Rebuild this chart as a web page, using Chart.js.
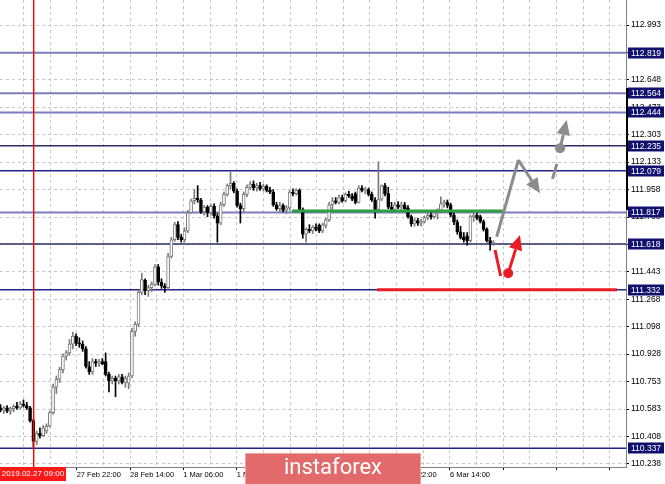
<!DOCTYPE html>
<html>
<head>
<meta charset="utf-8">
<title>USDJPY H1</title>
<script src="https://cdn.jsdelivr.net/npm/chart.js@4.4.1/dist/chart.umd.min.js"></script>
<style>
  html, body { margin: 0; padding: 0; background: #fff; }
  #wrap { width: 665px; height: 484px; }
</style>
</head>
<body>
<div id="wrap"><canvas id="chart" width="665" height="484"></canvas></div>
<script>
"use strict";

// H1 candles (one per hour)
const openP = [
  110.590, 110.575, 110.590, 110.570, 110.585, 110.600, 110.590, 110.615, 110.605, 110.590,
  110.510, 110.380, 110.430, 110.415, 110.445, 110.475, 110.560, 110.720, 110.770, 110.830,
  110.915, 110.935, 110.990, 111.040, 110.995, 110.990, 110.960, 110.850, 110.815, 110.880,
  110.870, 110.880, 110.880, 110.800, 110.760, 110.775, 110.760, 110.785, 110.750, 110.745,
  110.790, 111.070, 111.115, 111.315, 111.390, 111.325, 111.345, 111.365, 111.475, 111.380,
  111.355, 111.345, 111.540, 111.645, 111.740, 111.660, 111.645, 111.700, 111.815, 111.890,
  111.905, 111.895, 111.820, 111.850, 111.815, 111.855, 111.795, 111.750, 111.865, 111.930,
  111.985, 112.000, 111.950, 111.860, 111.840, 111.930, 111.975, 111.995, 111.970, 111.985,
  111.965, 111.980, 111.955, 111.945, 111.865, 111.840, 111.860, 111.830, 111.845, 111.945,
  111.935, 111.955, 111.835, 111.680, 111.710, 111.700, 111.725, 111.735, 111.700, 111.735,
  111.770, 111.865, 111.890, 111.880, 111.910, 111.890, 111.930, 111.920, 111.935, 111.880,
  111.970, 111.955, 111.960, 111.930, 111.895, 111.835, 111.900, 111.985, 111.935, 111.850,
  111.835, 111.865, 111.850, 111.865, 111.845, 111.790, 111.745, 111.765, 111.750, 111.760,
  111.785, 111.800, 111.790, 111.815, 111.830, 111.870, 111.880, 111.865, 111.800, 111.757,
  111.695, 111.660, 111.670, 111.640, 111.790, 111.800, 111.790, 111.760, 111.710, 111.640,
  111.625
];
const highP = [
  110.610, 110.600, 110.605, 110.595, 110.610, 110.625, 110.630, 110.640, 110.625, 110.600,
  110.520, 110.445, 110.465, 110.480, 110.490, 110.570, 110.740, 110.790, 110.845, 110.930,
  110.950, 111.020, 111.065, 111.055, 111.030, 111.010, 110.975, 110.880, 110.900, 110.895,
  110.895, 110.900, 110.935, 110.815, 110.790, 110.790, 110.800, 110.800, 110.790, 110.810,
  111.090, 111.130, 111.330, 111.435, 111.400, 111.360, 111.380, 111.490, 111.490, 111.400,
  111.370, 111.560, 111.660, 111.755, 111.760, 111.680, 111.720, 111.830, 111.900, 111.960,
  111.985, 111.905, 111.860, 111.860, 111.870, 111.870, 111.810, 111.880, 111.945, 111.995,
  112.070, 112.010, 111.965, 111.875, 111.945, 111.990, 112.010, 112.015, 112.000, 112.005,
  111.995, 111.990, 111.975, 111.960, 111.880, 111.880, 111.870, 111.860, 111.955, 111.965,
  111.965, 111.965, 111.845, 111.720, 111.740, 111.735, 111.745, 111.745, 111.750, 111.780,
  111.880, 111.910, 111.910, 111.925, 111.925, 111.940, 111.950, 111.935, 111.945, 111.985,
  111.985, 111.975, 111.970, 111.945, 111.910, 112.135, 111.990, 112.000, 111.975, 111.880,
  111.880, 111.885, 111.880, 111.880, 111.860, 111.800, 111.780, 111.780, 111.775, 111.795,
  111.815, 111.815, 111.825, 111.840, 111.915, 111.895, 111.895, 111.875, 111.815, 111.770,
  111.730, 111.690, 111.690, 111.800, 111.820, 111.815, 111.800, 111.770, 111.720, 111.660,
  111.640
];
const lowP = [
  110.565, 110.555, 110.560, 110.550, 110.565, 110.580, 110.585, 110.595, 110.580, 110.500,
  110.345, 110.360, 110.400, 110.410, 110.430, 110.470, 110.550, 110.680, 110.750, 110.810,
  110.890, 110.920, 110.960, 110.980, 110.970, 110.945, 110.840, 110.800, 110.800, 110.850,
  110.850, 110.860, 110.790, 110.690, 110.740, 110.660, 110.740, 110.740, 110.720, 110.710,
  110.780, 111.040, 111.100, 111.300, 111.300, 111.290, 111.320, 111.355, 111.360, 111.340,
  111.315, 111.335, 111.530, 111.635, 111.645, 111.630, 111.630, 111.690, 111.810, 111.870,
  111.880, 111.810, 111.800, 111.790, 111.800, 111.780, 111.630, 111.740, 111.855, 111.920,
  111.965, 111.940, 111.850, 111.750, 111.820, 111.915, 111.960, 111.955, 111.950, 111.955,
  111.950, 111.945, 111.935, 111.855, 111.830, 111.820, 111.820, 111.810, 111.830, 111.920,
  111.925, 111.825, 111.655, 111.630, 111.690, 111.685, 111.700, 111.690, 111.690, 111.720,
  111.760, 111.830, 111.870, 111.870, 111.880, 111.880, 111.910, 111.890, 111.870, 111.875,
  111.945, 111.935, 111.920, 111.885, 111.780, 111.820, 111.890, 111.920, 111.840, 111.820,
  111.825, 111.840, 111.835, 111.830, 111.780, 111.730, 111.730, 111.735, 111.730, 111.750,
  111.770, 111.775, 111.780, 111.775, 111.820, 111.850, 111.845, 111.790, 111.740, 111.680,
  111.650, 111.630, 111.612, 111.630, 111.760, 111.770, 111.750, 111.700, 111.630, 111.580,
  111.610
];
const closeP = [
  110.575, 110.590, 110.570, 110.585, 110.600, 110.590, 110.615, 110.605, 110.590, 110.510,
  110.380, 110.430, 110.415, 110.465, 110.475, 110.560, 110.720, 110.770, 110.830, 110.915,
  110.935, 110.990, 111.040, 110.995, 110.990, 110.960, 110.850, 110.815, 110.880, 110.870,
  110.880, 110.865, 110.800, 110.760, 110.775, 110.760, 110.785, 110.750, 110.775, 110.790,
  111.070, 111.115, 111.315, 111.395, 111.325, 111.345, 111.365, 111.475, 111.380, 111.355,
  111.345, 111.540, 111.645, 111.740, 111.660, 111.645, 111.700, 111.815, 111.890, 111.905,
  111.895, 111.820, 111.850, 111.815, 111.855, 111.795, 111.750, 111.865, 111.930, 111.985,
  112.000, 111.950, 111.860, 111.840, 111.930, 111.975, 111.995, 111.970, 111.985, 111.965,
  111.980, 111.955, 111.945, 111.865, 111.840, 111.860, 111.830, 111.845, 111.945, 111.935,
  111.955, 111.835, 111.680, 111.710, 111.700, 111.725, 111.710, 111.700, 111.740, 111.770,
  111.865, 111.890, 111.880, 111.910, 111.890, 111.930, 111.920, 111.900, 111.880, 111.970,
  111.955, 111.960, 111.930, 111.895, 111.835, 111.900, 111.985, 111.935, 111.850, 111.835,
  111.865, 111.850, 111.865, 111.840, 111.790, 111.745, 111.765, 111.750, 111.760, 111.785,
  111.800, 111.790, 111.815, 111.830, 111.870, 111.880, 111.860, 111.800, 111.757, 111.695,
  111.660, 111.645, 111.640, 111.790, 111.800, 111.780, 111.760, 111.710, 111.640, 111.625,
  111.630
];

// price axis ticks and time labels
const yTicks = [112.993, 112.818, 112.648, 112.473, 112.303, 112.133, 111.958, 111.788, 111.613,
  111.443, 111.268, 111.098, 110.928, 110.753, 110.583, 110.408, 110.238];
const timeLabels = ["27 Feb 22:00", "28 Feb 14:00", "1 Mar 06:00", "1 Mar 22:00",
  "4 Mar 14:00", "5 Mar 06:00", "5 Mar 22:00", "6 Mar 14:00"];

// horizontal levels (the boxed prices on the right)
const levels = [112.819, 112.564, 112.444, 112.235, 112.079, 111.817, 111.618, 111.332, 110.337];

// vertical line 2019.02.27 09:00 (bar index)
const vlineBar = 10;
const vlineText = "2019.02.27 09:00";

// drawn objects, in [bar index, price]
const greenSeg = [[88.7, 111.826], [152.9, 111.826]];
const redSeg = [[114.6, 111.332], [187.6, 111.332]];
const grayZigzag = [[151.0, 111.664], [157.6, 112.146], [164.2, 111.937]];
const grayDash = [[168.0, 112.027], [169.3, 112.121]];
const grayDotArrow = [[170.3, 112.219], [172.3, 112.397]];
const redStroke = [[150.5, 111.581], [152.2, 111.418]];
const redDotArrow = [[154.5, 111.435], [158.1, 111.675]];
const rangeMark = [112.598, 111.832];

// ---- layout / style ----
const xMin = -0.152, xMax = 190.35;
const yMin = 110.219, yMax = 113.150;
const gridStart = 6.95, gridStep = 8.115;
const gridX = [];
for (let v = gridStart; v < xMax; v += gridStep) gridX.push(v);

const lightLvl = {color: "#7c7cbe", width: 2};
const darkLvl = {color: "#2e2e62", width: 1.5};
const navyLvl = {color: "#22228c", width: 1.5};
const levelStyle = [lightLvl, lightLvl, lightLvl, darkLvl, navyLvl, lightLvl, darkLvl, navyLvl, navyLvl];

const bars = openP.map((o, i) => i);
const up = bars.map(i => closeP[i] >= openP[i]);

function px(chart, pt) {
    return [chart.scales.x.getPixelForValue(pt[0]), chart.scales.y.getPixelForValue(pt[1])];
}

function drawArrow(ctx, a, b, color, width, head) {
    let ang = Math.atan2(b[1] - a[1], b[0] - a[0]);
    let bx = b[0] - Math.cos(ang) * head, by = b[1] - Math.sin(ang) * head;
    ctx.strokeStyle = color;
    ctx.lineWidth = width;
    ctx.beginPath();
    ctx.moveTo(a[0], a[1]);
    ctx.lineTo(bx, by);
    ctx.stroke();
    ctx.fillStyle = color;
    ctx.beginPath();
    ctx.moveTo(b[0], b[1]);
    ctx.lineTo(bx + Math.sin(ang) * head * 0.45, by - Math.cos(ang) * head * 0.45);
    ctx.lineTo(bx - Math.sin(ang) * head * 0.45, by + Math.cos(ang) * head * 0.45);
    ctx.closePath();
    ctx.fill();
}

function dot(ctx, p, r, color) {
    ctx.fillStyle = color;
    ctx.beginPath();
    ctx.arc(p[0], p[1], r, 0, Math.PI * 2);
    ctx.fill();
}

function noPadding(scale) {
    scale.paddingTop = 0;
    scale.paddingBottom = 0;
    scale.paddingLeft = 0;
    scale.paddingRight = 0;
}

const mtObjects = {
    id: "mtObjects",
    beforeDatasetsDraw(chart) {
        const {ctx, chartArea: a, scales: {y}} = chart;
        ctx.save();
        levels.forEach((lv, i) => {
            let yy = y.getPixelForValue(lv);
            ctx.strokeStyle = levelStyle[i].color;
            ctx.lineWidth = levelStyle[i].width;
            ctx.beginPath();
            ctx.moveTo(a.left, yy);
            ctx.lineTo(a.right, yy);
            ctx.stroke();
        });
        ctx.restore();
    },
    afterDatasetsDraw(chart) {
        const {ctx, chartArea: a} = chart;
        ctx.save();
        ctx.beginPath();
        ctx.rect(a.left, a.top, a.right - a.left, a.bottom - a.top);
        ctx.clip();

        // green and red horizontals
        [[greenSeg, "#2e9e3e"], [redSeg, "#ec1c24"]].forEach(([seg, col]) => {
            let p0 = px(chart, seg[0]), p1 = px(chart, seg[1]);
            ctx.strokeStyle = col;
            ctx.lineWidth = 3;
            ctx.beginPath();
            ctx.moveTo(p0[0], p0[1]);
            ctx.lineTo(p1[0], p1[1]);
            ctx.stroke();
        });

        // gray scenario
        const gray = "#8c8c8c";
        let g = grayZigzag.map(p => px(chart, p));
        ctx.strokeStyle = gray;
        ctx.lineWidth = 3;
        ctx.beginPath();
        ctx.moveTo(g[0][0], g[0][1]);
        ctx.lineTo(g[1][0], g[1][1]);
        ctx.stroke();
        drawArrow(ctx, g[1], g[2], gray, 3, 15);
        let d = grayDash.map(p => px(chart, p));
        ctx.strokeStyle = gray;
        ctx.lineWidth = 3;
        ctx.beginPath();
        ctx.moveTo(d[0][0], d[0][1]);
        ctx.lineTo(d[1][0], d[1][1]);
        ctx.stroke();
        let ga = grayDotArrow.map(p => px(chart, p));
        drawArrow(ctx, ga[0], ga[1], gray, 3, 15);
        dot(ctx, ga[0], 5, gray);

        // red scenario
        const red = "#ec1c24";
        let r = redStroke.map(p => px(chart, p));
        ctx.strokeStyle = red;
        ctx.lineWidth = 3;
        ctx.beginPath();
        ctx.moveTo(r[0][0], r[0][1]);
        ctx.lineTo(r[1][0], r[1][1]);
        ctx.stroke();
        let ra = redDotArrow.map(p => px(chart, p));
        drawArrow(ctx, ra[0], ra[1], red, 3, 15);
        dot(ctx, ra[0], 5, red);
        ctx.restore();
    },
    afterDraw(chart) {
        const {ctx, chartArea: a, scales: {x, y}} = chart;
        ctx.save();
        // red vertical line (drawn last so nothing covers it)
        let vx = Math.round(x.getPixelForValue(vlineBar));
        ctx.fillStyle = "rgb(255, 0, 0)";
        ctx.fillRect(vx, a.top, 1.4, a.bottom - a.top);

        // black mark on the price border
        ctx.fillStyle = "#000";
        let m0 = y.getPixelForValue(rangeMark[0]), m1 = y.getPixelForValue(rangeMark[1]);
        ctx.fillRect(a.right, m0, 2, m1 - m0);

        // level boxes
        ctx.font = "8.5px 'Liberation Sans', Arial, sans-serif";
        ctx.textBaseline = "middle";
        ctx.textAlign = "left";
        levels.forEach(lv => {
            let yy = Math.round(y.getPixelForValue(lv));
            ctx.fillStyle = "#10106e";
            ctx.fillRect(a.right + 2, yy - 5.5, 36, 11);
            ctx.fillStyle = "#fff";
            ctx.fillText(lv.toFixed(3), a.right + 5, yy + 0.5);
        });

        // time label of the vertical line
        ctx.fillStyle = "#ff1a1a";
        ctx.fillRect(vx - 33, a.bottom, 66, 14);
        ctx.fillStyle = "#fff";
        ctx.font = "8px 'Liberation Sans', Arial, sans-serif";
        ctx.textAlign = "center";
        ctx.fillText(vlineText, vx, a.bottom + 7);

        // watermark
        ctx.fillStyle = "#e26a6a";
        ctx.fillRect(245, 453, 176, 31);
        ctx.strokeStyle = "#f0a4a4";
        ctx.lineWidth = 1;
        ctx.strokeRect(245.5, 453.5, 175, 31);
        ctx.fillStyle = "#fff";
        ctx.font = "22px Roboto, 'Open Sans', sans-serif";
        ctx.textAlign = "center";
        ctx.fillText("instaforex", 333, 468);
        ctx.restore();
    }
};

const ctxEl = document.getElementById("chart");
new Chart(ctxEl, {
    type: "bar",
    data: {
        datasets: [
            {
                label: "body",
                data: bars.map(i => ({x: i, y: [openP[i], closeP[i]]})),
                grouped: false,
                barThickness: 3,
                minBarLength: 1,
                borderWidth: 1,
                borderSkipped: false,
                backgroundColor: up.map(u => u ? "#ffffff" : "#000000"),
                borderColor: up.map(u => u ? "#7a7a7a" : "#000000")
            },
            {
                label: "wick",
                data: bars.map(i => ({x: i, y: [lowP[i], highP[i]]})),
                grouped: false,
                barThickness: 1,
                borderWidth: 0,
                backgroundColor: up.map(u => u ? "#7a7a7a" : "#000000")
            }
        ]
    },
    options: {
        responsive: false,
        animation: false,
        layout: {padding: 0},
        plugins: {legend: {display: false}, tooltip: {enabled: false}},
        scales: {
            x: {
                type: "linear",
                min: xMin,
                max: xMax,
                offset: false,
                afterBuildTicks: scale => { scale.ticks = gridX.map(v => ({value: v})); },
                afterFit: scale => { scale.height = 17; noPadding(scale); },
                grid: {
                    offset: false,
                    color: "#c8c8c8",
                    lineWidth: 1,
                    tickLength: 3,
                    tickBorderDash: [],
                    tickColor: c => (c.index >= 2 && c.index % 2 === 0) ? "#000" : "rgba(0,0,0,0)"
                },
                border: {display: true, color: "#808080", dash: [3, 3]},
                ticks: {
                    autoSkip: false,
                    maxRotation: 0,
                    align: "start",
                    padding: 0,
                    color: "#000",
                    font: {family: "'Liberation Sans', Arial, sans-serif", size: 7.5},
                    callback: (v, i) => (i >= 2 && i % 2 === 0) ? (timeLabels[(i - 2) / 2] || "") : ""
                }
            },
            y: {
                type: "linear",
                position: "right",
                min: yMin,
                max: yMax,
                afterBuildTicks: scale => { scale.ticks = yTicks.map(v => ({value: v})); },
                afterFit: scale => { scale.width = 39; noPadding(scale); },
                grid: {
                    color: "#c8c8c8",
                    lineWidth: 1,
                    tickLength: 3,
                    tickBorderDash: [],
                    tickColor: "#000"
                },
                border: {display: true, color: "#808080", dash: [3, 3]},
                ticks: {
                    autoSkip: false,
                    padding: 2,
                    color: "#000",
                    font: {family: "'Liberation Sans', Arial, sans-serif", size: 8.5},
                    callback: v => v.toFixed(3)
                }
            }
        }
    },
    plugins: [mtObjects]
});
</script>
</body>
</html>
